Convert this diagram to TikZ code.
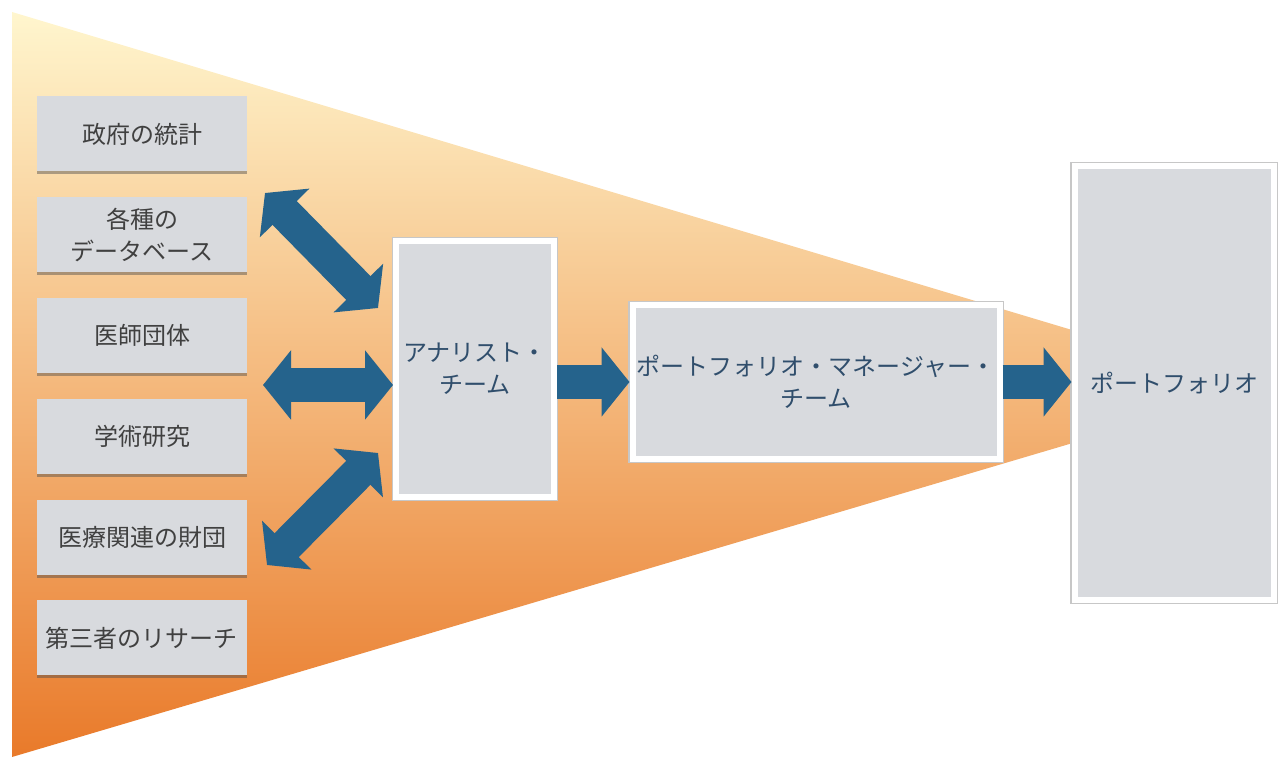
\documentclass[tikz,border=0pt]{standalone}
\usepackage{fontspec}
\setmainfont{Noto Sans CJK JP}
\usepackage{tikz}
\usetikzlibrary{positioning}
\usetikzlibrary{arrows.meta}
\usetikzlibrary{shadows}
\definecolor{boxgray}{RGB}{216,218,222}
\definecolor{textgray}{RGB}{64,64,64}
\definecolor{textblue}{RGB}{48,78,108}
\definecolor{flowblue}{RGB}{37,99,140}
\definecolor{funneltop}{RGB}{255,246,206}
\definecolor{funnelmid}{RGB}{246,196,128}
\definecolor{funnelbot}{RGB}{233,122,42}
\tikzset {
  node distance={12.5pt},
  % data sources on the left
  src/.style={fill=boxgray, minimum width=105pt, minimum height=37.5pt,
    inner sep=0pt, align=center, text=textgray,
    font=\fontsize{12}{16}\selectfont,
    drop shadow={shadow xshift=0pt, shadow yshift=-1.5pt, opacity=0.45, fill=black!70}},
  % team boxes with a white frame and a faint grey rim
  team/.style={src, draw=white, line width=3pt, text=textblue,
    preaction={draw=black!22, line width=4.2pt}},
  % thick block arrows
  flow/.style={flowblue, line width=17pt, -{Triangle[width=34pt,length=14pt]}},
  both/.style={flow, {Triangle[width=34pt,length=14pt]}-{Triangle[width=34pt,length=14pt]}},
}
\begin{document}
\begin{tikzpicture}[x=0.5pt, y=-0.5pt]
      \useasboundingbox (0,0) rectangle (1280,758);

      % funnel behind everything
      \shade[top color=funneltop, middle color=funnelmid, bottom color=funnelbot]
        (12,12) -- (1262,387) -- (12,757) -- cycle;

      \node[src] (gov) at (142,134) {政府の統計};

      \node[src] (db) [below=of gov] {各種の\\データベース};

      \node[src] (doc) [below=of db] {医師団体};

      \node[src] (acad) [below=of doc] {学術研究};

      \node[src] (fund) [below=of acad] {医療関連の財団};

      \node[src] (third) [below=of fund] {第三者のリサーチ};

      \node[team, minimum width=79pt, minimum height=128pt] (analyst) at (475,369) {アナリスト・\\チーム};

      \node[team, minimum width=183.5pt, minimum height=77pt] (pm) at (816,382) {ポートフォリオ・マネージャー・\\チーム};

      \node[team, minimum width=99.5pt, minimum height=217pt] (port) at (1174,383) {ポートフォリオ};

      \coordinate (a1) at (265,193);
      \coordinate (a2) at (378,308);
      \coordinate (h1) at (263,385);
      \coordinate (b1) at (378,453);
      \coordinate (b2) at (267,565);

      \draw[both] (a1) -- (a2);
      \draw[both] (h1) -- (h1 -| analyst.west);
      \draw[both] (b1) -- (b2);
      \draw[flow] (analyst.east |- pm.west) -- (pm.west);
      \draw[flow] (pm.east) -- (pm.east -| port.west);
\end{tikzpicture}
\end{document}
